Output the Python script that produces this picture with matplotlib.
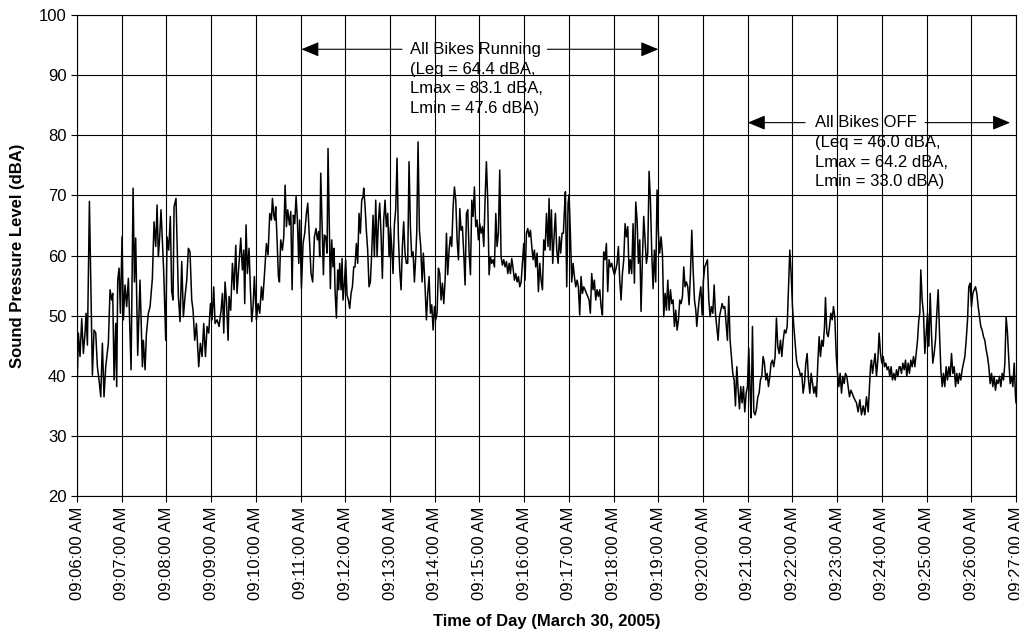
import matplotlib
matplotlib.use('Agg')
import matplotlib.pyplot as plt

plt.rcParams['font.family'] = ['Liberation Sans', 'DejaVu Sans']

# seconds after 09:06:00 and sound level (dBA)
t_sec = [
    0.0, 1.8, 4.0, 6.3, 8.5, 10.7, 12.1, 13.9, 16.6, 18.8, 20.6, 22.8, 25.1, 27.3, 29.5, 31.8,
    34.0, 36.2, 38.5, 42.0, 44.3, 46.5, 47.9, 49.7, 51.9, 53.2, 54.6, 56.4, 58.2, 60.4, 62.2,
    64.4, 66.6, 68.9, 72.5, 75.2, 77.0, 78.7, 81.4, 84.5, 87.7, 89.0, 91.3, 93.0, 95.7, 98.0,
    101.1, 103.3, 105.6, 107.4, 109.1, 110.9, 112.7, 114.5, 116.3, 119.0, 120.8, 123.0, 125.2,
    127.0, 128.8, 130.2, 132.8, 134.2, 136.0, 138.2, 140.5, 142.7, 144.9, 147.2, 149.4, 151.6,
    153.9,
    155.7, 157.9, 160.2, 163.3, 165.5, 167.8, 170.0, 172.3, 174.5, 176.7, 179.0, 181.2, 183.4,
    185.2, 187.9, 190.6, 193.3, 195.1, 196.9, 198.6, 200.4, 202.7, 204.0, 206.2, 208.5, 210.7,
    213.0, 214.7, 217.0, 219.7, 221.9, 223.7, 225.0, 226.8, 228.6, 230.8, 232.6, 234.4, 236.2,
    238.0, 240.7, 242.9, 245.2, 247.4, 249.2, 251.9, 254.1, 256.3, 258.6, 260.8, 262.2, 264.0,
    265.3, 266.6, 268.4, 270.2, 271.6, 273.3, 275.6, 277.4, 279.2, 281.0, 282.7, 285.0, 286.8,
    288.6, 290.3, 292.1, 293.9, 295.7, 297.5, 298.8, 301.1, 303.3, 305.5, 307.8, 309.6, 312.3,
    314.0, 316.2, 318.5, 320.7, 322.5, 324.3, 325.6, 327.0, 328.8, 330.6, 331.9, 333.7, 335.5,
    336.8, 338.6, 339.9, 341.7, 343.5, 344.9, 346.2, 348.0, 349.8, 351.1, 352.5, 354.3, 355.6,
    356.9, 358.7, 360.5, 362.3, 364.1, 365.9, 367.7, 369.5, 371.3, 373.0, 374.8, 376.6, 378.4,
    380.2, 382.0, 383.8, 384.7, 386.5, 388.3, 390.0, 391.8, 393.6, 395.4, 397.2, 399.0, 400.8,
    402.6, 404.4, 406.1, 407.9, 409.7, 411.5, 413.3, 415.1, 416.9, 418.7, 420.5, 422.2, 424.0,
    425.8, 427.6, 429.4, 431.2, 433.0, 434.8, 436.6, 438.3, 440.1, 441.9, 443.7, 445.5, 447.3,
    449.1, 450.9, 452.7, 454.5, 455.8, 457.6, 459.4, 461.2, 463.0, 464.7, 467.0, 468.8, 470.6,
    472.4, 474.2, 476.0, 477.8, 479.6, 481.3, 483.1, 484.9, 486.7, 488.5, 490.3, 492.1, 493.9,
    495.7, 497.4, 499.2, 501.0, 502.8, 504.6, 506.4, 508.2, 510.0, 511.8, 513.6, 515.3, 517.1,
    518.9, 520.7, 522.5, 524.3, 526.1, 527.9, 529.7, 531.4, 533.2, 535.0, 536.8, 538.6, 540.4,
    542.2, 544.0, 545.8, 547.5, 549.3, 551.1, 552.9, 554.7, 556.5, 558.3, 560.1, 561.9, 563.6,
    565.4, 567.2, 569.0, 570.8, 572.6, 574.4, 576.2, 578.0, 579.8, 581.5, 583.3, 585.1, 586.9,
    588.7, 590.5, 592.3, 594.1, 595.9, 597.6, 599.4, 601.2, 603.0, 604.8, 606.6, 608.4, 610.2,
    612.0, 613.7, 615.5, 617.3, 619.1, 620.9, 622.7, 624.5, 626.3, 628.1, 629.9,
    632.0, 633.4, 634.7, 636.5, 638.3, 640.1, 641.9, 643.7, 645.5, 647.3, 649.0, 650.8, 652.6,
    654.0, 655.3, 657.1, 658.9, 660.2, 662.0, 663.8, 665.6, 667.4, 669.2, 671.0, 672.7, 674.5,
    676.3, 678.1, 679.9, 681.7, 683.5, 685.3, 687.1, 688.8, 690.6, 692.4, 694.2, 696.0, 697.8,
    699.6, 701.4, 703.2, 705.0, 706.7, 708.5, 710.3, 712.1, 713.9, 715.7, 717.5, 719.3, 721.1,
    722.8, 724.6, 726.4, 728.2, 730.0, 731.8, 733.6, 735.4, 737.2, 739.0, 740.7, 742.5, 744.3,
    746.1, 747.9, 749.7, 751.5, 753.3, 755.1, 756.8, 758.6, 760.4, 762.2, 764.0, 765.8, 767.6,
    769.4, 771.2, 773.0, 774.7, 776.5, 778.3, 780.1, 781.9, 783.7, 785.5, 787.3,
    789.1, 790.9, 792.7, 794.5, 796.3, 798.0, 799.8, 801.6, 803.4, 805.2, 807.0, 808.8, 810.6,
    812.4, 814.1, 815.9, 817.7, 819.5, 821.3, 823.1, 824.9, 826.7, 828.5, 830.3, 831.6, 833.4,
    835.2, 837.0, 838.8, 840.5, 842.3, 844.1, 845.9, 847.7, 849.5, 851.3, 853.1, 854.9, 856.6,
    858.4, 860.2, 862.0, 863.8, 865.6, 867.4, 869.2, 871.0, 872.7, 874.5, 876.3, 878.1, 879.9,
    881.7, 883.5, 885.3, 887.1, 888.9, 890.6, 892.4, 894.2, 896.0, 897.8, 899.6, 901.4, 903.2,
    904.5, 906.3, 908.1, 909.9, 911.7, 913.5, 915.2, 917.0, 918.8, 920.6, 922.4, 924.2, 926.0,
    927.8, 929.6, 931.3, 933.1, 934.9, 936.7, 938.5, 940.3, 942.1, 943.9, 945.7,
    947.5, 949.3, 951.1, 952.9, 954.7, 956.4, 958.2, 960.0, 961.8, 963.6, 965.4, 967.2, 969.0,
    970.8, 972.5, 974.3, 976.1, 977.9, 979.7, 981.5, 983.3, 985.1, 986.9, 988.7, 990.4, 992.2,
    994.0, 995.8, 997.6, 999.4, 1001.2, 1003.0, 1004.3, 1006.1, 1007.9, 1009.7, 1011.5, 1013.3,
    1015.0, 1016.8, 1018.6, 1020.4, 1022.2, 1024.0, 1025.8, 1027.6, 1029.4, 1031.1, 1032.9,
    1034.7, 1036.5, 1038.3, 1040.1, 1041.9, 1043.7, 1045.9, 1048.1, 1050.4, 1052.6, 1054.9,
    1057.1, 1059.3, 1061.6, 1064.7, 1066.0, 1067.4, 1069.2, 1070.9, 1072.7, 1074.5, 1076.3,
    1078.1, 1079.9, 1081.7, 1083.5, 1085.3, 1087.1, 1088.8, 1090.6, 1092.4, 1094.2, 1096.0,
    1097.8, 1099.6, 1101.4, 1103.2,
    1104.5, 1106.3, 1108.1, 1109.9, 1111.7, 1113.4, 1115.2, 1117.0, 1118.8, 1120.6, 1122.4,
    1124.2, 1126.0, 1127.8, 1129.5, 1130.9, 1132.2, 1134.0, 1135.8, 1137.6, 1139.4, 1141.2,
    1143.0, 1144.8, 1146.5, 1148.3, 1150.1, 1151.9, 1153.7, 1155.5, 1157.3, 1159.1, 1160.9,
    1162.6, 1164.4, 1166.2, 1168.0, 1169.8, 1171.6, 1173.4, 1175.2, 1177.0, 1178.8, 1180.5,
    1182.3, 1184.1, 1185.9, 1187.7, 1189.5, 1191.3, 1193.1, 1194.9, 1196.6, 1198.4, 1200.2,
    1202.0, 1203.8, 1205.6, 1207.4, 1209.2, 1211.0, 1212.7, 1214.5, 1216.3, 1218.1, 1219.9,
    1221.7, 1223.5, 1225.3, 1227.1, 1228.8, 1230.6, 1232.4, 1234.2, 1236.0, 1237.8, 1239.6,
    1241.4, 1243.2, 1245.0, 1246.7, 1248.5, 1250.3, 1252.1, 1253.9, 1255.7, 1257.5, 1259.3,
    1260.0,
]
spl = [
    37.6, 47.1, 43.2, 49.5, 43.7, 47.1, 50.4, 45.1, 69.0, 53.2, 40.1, 47.6, 47.1, 41.5, 39.3, 36.5,
    45.4, 36.5, 41.5, 45.4, 54.3, 52.6, 53.7, 39.3, 48.7, 38.2, 55.9, 57.9, 50.4, 63.1, 49.3,
    55.1, 51.5, 56.2, 41.0, 71.2, 55.6, 62.9, 43.4, 55.9, 41.5, 45.9, 41.0, 46.8, 50.4, 51.5,
    56.2, 65.6, 61.5, 68.4, 59.8, 63.1, 67.6, 62.6, 57.3, 45.9, 63.1, 60.9, 66.5,
    54.0, 52.6, 68.1, 69.5, 62.6, 53.2, 49.0, 59.0, 49.8, 53.2, 55.9, 61.2, 60.6,
    52.6,
    50.9, 45.9, 48.7, 41.5, 45.4, 43.2, 48.7, 43.2, 48.2, 47.1, 52.0, 49.3, 54.8,
    48.7, 49.3, 48.2, 50.9, 53.7, 47.1, 55.6, 52.6, 45.9, 53.2, 50.9, 58.7, 54.3,
    61.7, 53.7, 58.1, 62.9, 57.6, 60.9, 52.0, 65.1, 57.0, 61.2, 54.5, 49.0, 51.5,
    56.5, 49.3, 52.0, 50.4, 54.8, 52.6, 57.6, 62.0, 60.1, 67.0, 65.9, 69.5, 66.7,
    65.9, 68.1, 62.6, 56.5, 55.6, 62.6, 60.9, 63.1, 71.7, 64.8, 67.6, 65.1, 67.3,
    54.3, 66.7, 65.3, 69.8, 65.9, 58.7, 65.9, 54.5, 62.0, 63.7, 67.0, 68.7, 61.5,
    57.0, 55.6, 63.1, 64.5, 62.6, 64.0, 59.8, 73.7, 65.3, 56.8, 63.4, 63.1, 60.4,
    77.8, 64.8, 54.5, 62.6, 58.1, 61.2, 54.3, 49.6, 57.6, 54.3, 58.7, 54.3, 59.5,
    52.6, 55.4, 59.3, 53.4, 52.6, 51.2, 53.7, 54.8, 58.1, 58.1, 62.0, 58.7, 67.0,
    63.7, 69.2, 69.8, 71.2, 68.1, 64.0, 60.9, 54.8, 55.6, 60.4, 66.7, 59.8, 69.2,
    59.8, 65.6, 68.7, 63.7, 56.2, 65.9, 69.2, 64.8, 67.0, 59.8, 64.8, 61.5, 57.0,
    65.1, 67.6, 76.2, 63.1, 57.6, 54.3, 61.5, 65.6, 60.4, 58.7, 58.7, 75.6, 64.8,
    59.8, 60.6, 55.6, 59.8, 63.7, 78.9, 64.2, 61.5, 55.6, 60.4, 54.8, 49.3, 53.7,
    56.5, 50.4, 51.8, 47.6, 51.5, 49.3, 50.4, 57.9, 57.0, 52.6, 55.4, 52.0, 55.9,
    63.7, 56.8, 60.9, 63.1, 61.5, 68.1, 71.4, 69.2, 62.6, 59.3, 67.8, 64.2, 64.8,
    60.4, 55.1, 67.0, 67.6, 60.4, 56.8, 69.2, 66.5, 71.4, 64.8, 65.9, 62.6, 65.3,
    63.7, 64.8, 61.5, 69.2, 75.6, 69.2, 56.8, 59.8, 58.7, 59.3, 58.1, 67.0, 61.5,
    63.7, 74.2, 59.8, 58.4, 59.3, 58.1, 59.0, 57.0, 58.7, 57.0, 59.5, 57.9, 55.9,
    57.0, 55.6, 56.5, 54.8, 55.6, 58.7, 62.0, 55.9, 63.7, 64.5, 63.1, 64.2, 61.5,
    59.3, 60.9, 58.1, 60.4, 54.0, 58.7, 55.9, 54.3, 62.6, 60.9, 67.0,
    61.5, 69.5, 60.9, 67.6, 58.7, 63.1, 67.0, 60.9, 58.7, 63.1, 60.4, 63.7, 63.7,
    67.6, 70.6, 54.8, 68.7, 70.1, 63.7, 55.6, 58.7, 56.5, 54.8, 55.9, 54.8, 50.1,
    56.5, 53.7, 54.8, 54.3, 53.7, 53.2, 52.6, 50.4, 57.0, 54.3, 55.9, 52.6, 54.3,
    53.2, 54.3, 51.5, 50.1, 60.6, 59.3, 62.0, 54.0, 59.3, 58.1, 58.7, 57.6, 56.8,
    57.6, 58.7, 61.5, 55.9, 52.6, 57.0, 59.3, 65.3, 63.1, 64.8, 57.0, 59.3, 57.0,
    65.3, 55.4, 68.9, 65.9, 58.7, 62.6, 50.7, 59.3, 66.5, 62.6, 58.7, 60.4, 74.0,
    69.2, 60.4, 54.5, 60.9, 55.6, 70.9, 63.7, 60.4, 63.1, 60.4, 49.8,
    53.7, 50.9, 55.9, 50.9, 54.3, 52.0, 52.6, 48.2, 50.9, 47.6, 49.3, 52.6, 52.0,
    53.2, 58.1, 54.8, 55.6, 54.8, 51.8, 57.0, 64.2, 57.6, 52.6, 50.9, 48.2, 50.9,
    53.2, 54.8, 50.1, 55.9, 58.1, 58.7, 59.3, 52.6, 49.8, 51.5, 50.4, 55.1, 50.4,
    48.2, 45.9, 49.8, 50.9, 52.0, 51.2, 51.5, 48.7, 45.9, 53.2, 45.9, 43.2, 40.4,
    39.3, 35.0, 41.5, 37.6, 34.5, 38.2, 35.5, 38.2, 34.0, 37.1, 38.2, 44.6, 37.1,
    33.0, 48.2, 34.0, 33.5, 34.5, 36.5, 37.1, 39.3, 39.9, 43.2, 42.1, 39.3, 40.4,
    38.2, 39.9, 42.1, 42.6, 41.5, 43.2, 49.6, 44.9, 43.7, 45.9, 43.2,
    45.9, 47.6, 47.1, 48.2, 54.8, 60.9, 57.0, 51.5, 48.2, 45.4, 42.6, 41.5, 41.0,
    39.9, 40.4, 37.1, 38.7, 42.1, 43.7, 39.3, 37.1, 40.4, 38.7, 37.1, 38.2, 36.5,
    42.1, 46.5, 43.2, 45.9, 44.9, 48.2, 53.0, 47.1, 46.5, 48.2, 50.4, 49.3,
    51.5, 49.8, 43.7, 40.4, 38.2, 40.4, 37.1, 39.9, 38.7, 40.4, 39.9,
    38.2, 36.5, 37.6, 37.1, 36.5, 36.0, 35.5, 34.0, 36.0, 33.5, 35.0,
    33.5, 36.5, 34.0, 41.5, 42.6, 40.4, 42.1, 43.7, 39.9, 42.6, 47.1,
    43.7, 42.1, 43.2, 41.5, 42.1, 41.0, 41.5, 39.9, 41.5, 39.3, 40.4,
    39.3, 41.0, 39.9, 41.5,
    41.5, 40.4, 42.1, 41.0, 42.6, 39.9, 42.1, 40.4, 42.6, 41.5, 43.2,
    41.5, 43.7, 45.9, 49.3, 50.4, 57.6, 52.6, 50.4, 43.7, 47.1, 50.4,
    44.9, 53.7, 47.1, 42.1, 43.7, 45.9, 50.4, 54.3, 47.1, 41.0, 38.2,
    40.4, 38.2, 41.5, 39.3, 41.5, 39.9, 43.7, 40.4, 41.5, 38.2, 40.4,
    38.7, 40.4, 39.3, 41.0, 42.1, 43.2, 45.9, 49.3, 54.8, 55.4, 51.5,
    53.7, 54.3, 54.8, 53.7, 51.5, 49.8, 48.2, 47.6, 46.5, 45.9, 44.3,
    43.2, 41.5, 38.7, 40.4, 38.2, 39.9, 37.6, 39.3, 38.7, 39.9, 38.2,
    40.4, 39.3, 42.1, 49.8, 47.1, 42.6, 38.7, 39.9, 38.2, 42.1, 36.5,
    35.5,
]

minute_ticks = list(range(0, 1261, 60))
tick_labels = [f"09:{m:02d}:00 AM" for m in range(6, 28)]
y_ticks = list(range(20, 101, 10))

running_text = "All Bikes Running\n(Leq = 64.4 dBA,\nLmax = 83.1 dBA,\nLmin = 47.6 dBA)"
off_text = "All Bikes OFF\n(Leq = 46.0 dBA,\nLmax = 64.2 dBA,\nLmin = 33.0 dBA)"

fig = plt.figure(figsize=(10.19, 6.33), dpi=100)
ax = fig.add_axes([0.0756, 0.2164, 0.9215, 0.7599])

ax.plot(t_sec, spl, color='black', lw=1.1)

ax.set_xlim(0, 1260)
ax.set_ylim(20, 100)
ax.set_xticks(minute_ticks)
ax.set_xticklabels(tick_labels, rotation=90, fontsize=12)
ax.set_yticks(y_ticks)
ax.tick_params(axis='y', labelsize=12)
ax.tick_params(direction='out', length=4, width=0.8, color='black')
ax.grid(True, color='black', lw=0.8)
ax.set_axisbelow(True)
for sp in ax.spines.values():
    sp.set_color('black')
    sp.set_linewidth(0.8)

ax.set_xlabel("Time of Day (March 30, 2005)", fontsize=12, fontweight='bold', labelpad=10)
ax.set_ylabel("Sound Pressure Level (dBA)", fontsize=12, fontweight='bold', labelpad=10)

arrow = dict(arrowstyle='-|>,head_length=0.6,head_width=0.25', color='black',
             lw=0.8, mutation_scale=18, shrinkA=0, shrinkB=0)

# All bikes running
ax.annotate('', xy=(301, 94.3), xytext=(436, 94.3), arrowprops=arrow)
ax.annotate('', xy=(780, 94.3), xytext=(631, 94.3), arrowprops=arrow)
ax.text(447, 95.5, running_text, fontsize=12, va='top', ha='left', linespacing=1.38)

# All bikes off
ax.annotate('', xy=(900, 82.1), xytext=(977, 82.1), arrowprops=arrow)
ax.annotate('', xy=(1252, 82.1), xytext=(1138, 82.1), arrowprops=arrow)
ax.text(990, 83.3, off_text, fontsize=12, va='top', ha='left', linespacing=1.38)

fig.savefig('out.png', dpi=100)
